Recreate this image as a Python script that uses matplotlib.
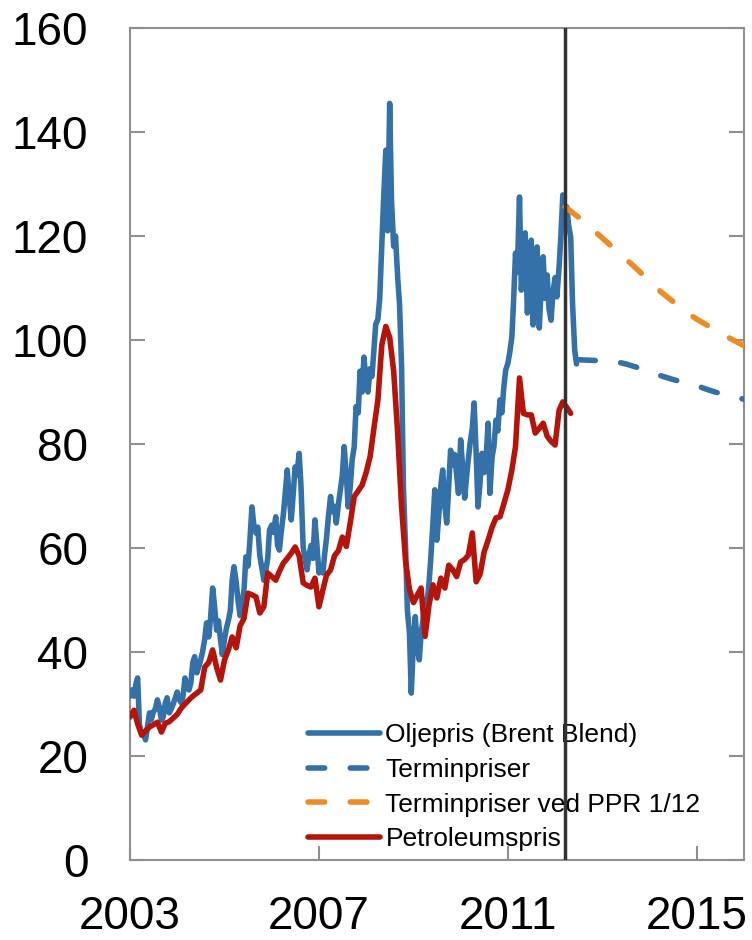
import matplotlib
matplotlib.use("Agg")
import matplotlib.pyplot as plt
import matplotlib.dates as mdates
import pandas as pd
import numpy as np
from datetime import datetime

plt.rcParams['font.family'] = ['Liberation Sans', 'DejaVu Sans']

# ---------------- data ----------------
# Brent Blend, USD per barrel, semi-monthly (1st and 15th) from Jan 2003
brent_2003 = [31.5, 32.7, 31.5, 33.8, 35.0, 26.0, 24.4, 24.5, 23.1, 25.5, 28.3, 27.0,
              28.5, 29.0, 30.8, 29.5, 26.9, 27.5, 30.2, 31.2, 28.3, 29.0, 30.0, 31.0]
brent_2004 = [32.3, 31.0, 30.2, 31.5, 35.0, 33.5, 32.7, 34.0, 38.0, 39.1, 36.0, 37.1,
              38.5, 40.0, 42.5, 45.6, 42.9, 46.5, 52.3, 49.0, 44.2, 46.0, 42.3, 39.5]
brent_2005 = [42.5, 44.5, 46.2, 48.0, 53.8, 56.4, 53.5, 50.0, 47.0, 49.0, 52.0, 58.3,
              56.5, 61.0, 67.9, 64.5, 62.9, 64.0, 58.5, 56.4, 53.8, 55.5, 58.0, 63.5]
brent_2006 = [64.4, 63.0, 66.0, 60.5, 59.6, 63.0, 66.5, 70.5, 75.0, 70.0, 65.4, 70.0,
              75.6, 74.0, 78.2, 72.0, 60.2, 58.0, 55.8, 58.5, 60.5, 58.0, 65.4, 61.0]
brent_2007 = [55.2, 56.5, 55.2, 59.0, 62.0, 66.0, 69.9, 67.0, 68.0, 64.8, 68.5, 71.0,
              74.0, 79.5, 74.0, 67.9, 72.0, 77.0, 79.5, 87.2, 86.0, 94.0, 90.0, 96.7]
brent_2008 = [92.0, 90.0, 94.5, 93.0, 98.0, 103.0, 104.0, 108.0, 118.0, 127.0, 136.5, 121.0,
              145.5, 127.0, 118.0, 120.0, 112.0, 107.0, 95.0, 72.0, 60.0, 48.0, 43.6, 32.1]
brent_2009 = [42.0, 46.8, 40.5, 38.5, 43.6, 46.0, 50.0, 49.0, 53.2, 58.0, 65.0, 71.2,
              61.5, 66.0, 72.0, 75.0, 68.0, 64.8, 72.0, 78.8, 76.0, 78.0, 74.0, 70.5]
brent_2010 = [80.8, 76.0, 69.6, 73.5, 77.0, 80.2, 83.0, 87.9, 78.0, 67.9, 73.0, 78.2,
              74.5, 76.5, 84.0, 70.5, 77.5, 79.5, 84.6, 82.5, 88.5, 86.0, 91.0, 94.2]
brent_2011 = [95.5, 97.5, 100.6, 108.0, 116.7, 113.0, 127.5, 109.6, 115.0, 120.6, 105.2, 113.0,
              119.2, 102.9, 110.0, 117.9, 102.3, 110.0, 116.0, 108.0, 112.5, 106.0, 103.8, 109.0]
brent_2012 = [112.0, 108.3, 114.0, 120.0, 127.9, 124.0, 125.6, 122.0, 119.8, 107.1, 98.0, 95.4]
brent = (brent_2003 + brent_2004 + brent_2005 + brent_2006 + brent_2007 +
         brent_2008 + brent_2009 + brent_2010 + brent_2011 + brent_2012)
brent_dates = pd.date_range("2003-01-01", periods=len(brent), freq="SMS")

# Petroleum price, monthly from Jan 2003
petro = [27.5, 28.8, 26.2, 24.0, 24.8, 25.6, 26.0, 26.5, 24.6, 26.3, 26.6, 27.3,
         28.0, 29.2, 30.0, 30.8, 31.5, 32.1, 32.7, 37.1, 38.0, 40.4, 37.0, 34.6,
         38.5, 40.5, 42.9, 40.8, 45.0, 46.5, 51.3, 51.0, 50.6, 47.5, 48.7, 55.2,
         54.5, 53.8, 55.5, 57.1, 58.0, 59.0, 60.2, 58.5, 53.3, 52.8, 52.5, 54.2,
         48.7, 52.0, 54.8, 55.8, 58.5, 59.5, 62.1, 60.3, 65.0, 69.9, 71.0, 72.1,
         74.5, 77.6, 83.0, 88.5, 99.0, 102.6, 100.5, 94.0, 82.0, 68.0, 57.5, 52.0,
         49.5, 51.0, 52.3, 43.0, 49.0, 52.9, 50.4, 54.2, 52.3, 56.7, 55.8, 54.5,
         57.3, 57.8, 58.6, 62.9, 53.5, 55.0, 59.2, 61.5, 64.0, 65.8, 66.0, 68.5,
         71.2, 75.0, 79.5, 92.7, 85.9, 85.6, 85.6, 82.1, 83.0, 84.0, 81.5, 80.5,
         79.8, 86.5, 88.1, 87.0, 85.9]
petro_dates = pd.date_range("2003-01-01", periods=len(petro), freq="MS")

# Forward prices now
fwd_dates = pd.to_datetime(["2012-07-01", "2012-10-01", "2013-01-01", "2013-04-01",
                            "2013-07-01", "2013-10-01", "2014-01-01", "2014-04-01",
                            "2014-07-01", "2014-10-01", "2015-01-01", "2015-04-01",
                            "2015-07-01", "2015-10-01", "2016-01-01"])
fwd_now = [96.2, 96.1, 96.0, 95.9, 95.4, 94.7, 93.9, 93.1, 92.4, 91.8, 91.2, 90.4,
           89.7, 89.2, 88.6]

# Forward prices at PPR 1/12
ppr_dates = pd.to_datetime(["2012-03-18", "2012-07-01", "2012-10-01", "2013-01-01",
                            "2013-04-01", "2013-07-01", "2013-10-01", "2014-01-01",
                            "2014-04-01", "2014-07-01", "2014-10-01", "2015-01-01",
                            "2015-04-01", "2015-07-01", "2015-10-01", "2016-01-01"])
fwd_ppr = [125.6, 123.6, 121.6, 119.6, 117.6, 115.6, 113.5, 111.3, 109.2, 107.4,
           105.5, 104.0, 102.7, 101.4, 100.1, 98.9]

split_date = datetime(2012, 3, 18)

labels = ["Oljepris (Brent Blend)", "Terminpriser", "Terminpriser ved PPR 1/12",
          "Petroleumspris"]
year_ticks = [2003, 2007, 2011, 2015]
y_ticks = [0, 20, 40, 60, 80, 100, 120, 140, 160]

# ---------------- style ----------------
BLUE = "#3471a8"
RED = "#b5140a"
ORANGE = "#ef8b22"
GRAY = "#8f8f8f"
LW = 4.0
DASH = (3.0, 4.6)

fig = plt.figure(figsize=(7.52, 9.40), dpi=100)
ax = fig.add_axes([130 / 752, 80 / 940, 614 / 752, 832 / 940])

ax.plot(brent_dates, brent, color=BLUE, lw=LW, solid_joinstyle="round",
        solid_capstyle="round", label=labels[0], zorder=3)
ax.plot(fwd_dates, fwd_now, color=BLUE, lw=LW, dashes=DASH,
        dash_capstyle="round", label=labels[1], zorder=3)
ax.plot(ppr_dates, fwd_ppr, color=ORANGE, lw=LW, dashes=DASH,
        dash_capstyle="round", label=labels[2], zorder=3)
ax.plot(petro_dates, petro, color=RED, lw=LW, solid_joinstyle="round",
        solid_capstyle="round", label=labels[3], zorder=4)
ax.axvline(split_date, color="#333333", lw=2.5, zorder=7)

ax.set_xlim(datetime(2003, 1, 1), datetime(2016, 1, 1))
ax.set_ylim(0, 160)
ax.set_xticks([datetime(y, 1, 1) for y in year_ticks])
ax.xaxis.set_major_formatter(mdates.DateFormatter("%Y"))
ax.set_yticks(y_ticks)

for s in ax.spines.values():
    s.set_color(GRAY)
    s.set_linewidth(1.5)

ax.tick_params(axis="y", direction="in", length=11, width=1.5, color=GRAY,
               labelsize=33, pad=30, left=True, right=True)
ax.tick_params(axis="x", direction="in", length=10, width=1.5, color=GRAY,
               labelsize=33, pad=25, top=False)

leg = ax.legend(loc="upper left", bbox_to_anchor=(0.290, 0.1647), frameon=False,
                fontsize=19, handlelength=2.73, handletextpad=0.2,
                labelspacing=0.41, borderpad=0, borderaxespad=0)
leg.set_zorder(6)

fig.savefig("out.png", dpi=100)
